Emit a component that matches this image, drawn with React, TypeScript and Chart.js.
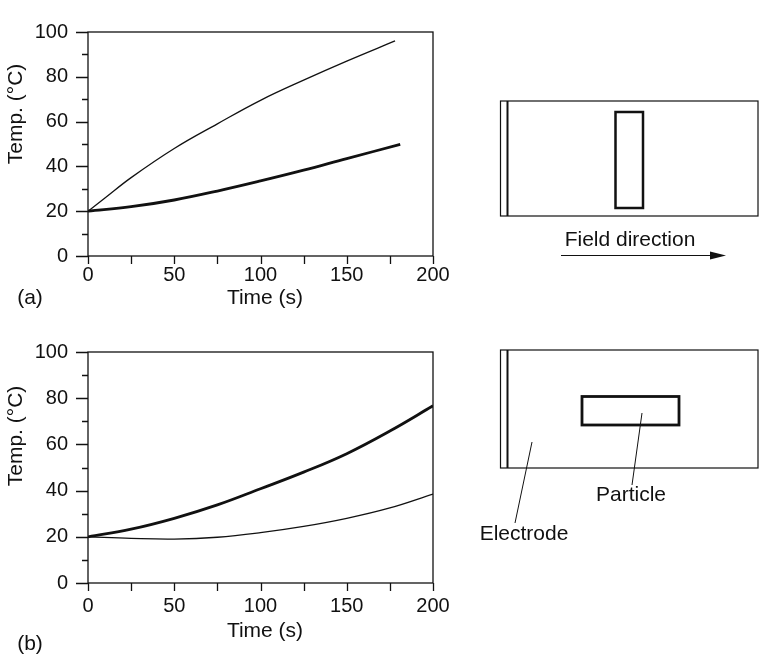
import React, { useEffect, useRef } from "react";
import { Chart, registerables } from "chart.js";

Chart.register(...registerables);

// ---- Data ----
const timeThinA = [0, 10, 25, 50, 75, 100, 125, 150, 178];
const tempThinA = [20, 26, 35, 48, 59, 69.5, 78.5, 87, 96];
const timeThickA = [0, 25, 50, 75, 100, 125, 150, 181];
const tempThickA = [20, 22, 25, 29, 33.5, 38.3, 43.5, 49.8];

const timeB = [0, 25, 50, 75, 100, 125, 150, 175, 200];
const tempThickB = [20, 23.3, 28, 33.8, 40.8, 48, 56, 65.8, 76.7];
const tempThinB = [20, 19.3, 19, 19.8, 21.8, 24.5, 28, 32.5, 38.5];

const xMajorTicks = [0, 50, 100, 150, 200];
const xMinorTicks = [25, 75, 125, 175];
const yMajorTicks = [0, 20, 40, 60, 80, 100];
const yMinorTicks = [10, 30, 50, 70, 90];

const xTitle = "Time (s)";
const yTitle = "Temp. (°C)";
const panelLabels = ["(a)", "(b)"];

const FONT = "'Liberation Sans', Arial, Helvetica, sans-serif";
const INK = "#111";

const pts = (xs: number[], ys: number[]) => xs.map((x, i) => ({ x, y: ys[i] }));

type DiagramFn = (ctx: CanvasRenderingContext2D) => void;

function drawTopDiagram(ctx: CanvasRenderingContext2D) {
  ctx.save();
  ctx.strokeStyle = INK;
  ctx.fillStyle = INK;
  ctx.lineWidth = 1.2;
  ctx.strokeRect(500.5, 101, 257.5, 115);
  ctx.lineWidth = 2;
  ctx.beginPath();
  ctx.moveTo(507.5, 101);
  ctx.lineTo(507.5, 216);
  ctx.stroke();
  ctx.lineWidth = 2.5;
  ctx.strokeRect(615.5, 112, 27.5, 96);
  ctx.font = `21px ${FONT}`;
  ctx.textAlign = "center";
  ctx.textBaseline = "middle";
  ctx.fillText("Field direction", 630, 240);
  ctx.lineWidth = 1.2;
  ctx.beginPath();
  ctx.moveTo(561, 255.5);
  ctx.lineTo(712, 255.5);
  ctx.stroke();
  ctx.beginPath();
  ctx.moveTo(726, 255.5);
  ctx.lineTo(710, 251.5);
  ctx.lineTo(710, 259.5);
  ctx.closePath();
  ctx.fill();
  ctx.restore();
}

function drawBottomDiagram(ctx: CanvasRenderingContext2D) {
  ctx.save();
  ctx.translate(0, -320);
  ctx.strokeStyle = INK;
  ctx.fillStyle = INK;
  ctx.lineWidth = 1.2;
  ctx.strokeRect(500.5, 350, 257.5, 118);
  ctx.lineWidth = 2;
  ctx.beginPath();
  ctx.moveTo(507.5, 350);
  ctx.lineTo(507.5, 468);
  ctx.stroke();
  ctx.lineWidth = 2.8;
  ctx.strokeRect(582, 396.5, 97, 28.5);
  ctx.lineWidth = 1;
  ctx.beginPath();
  ctx.moveTo(642, 413);
  ctx.lineTo(632, 485);
  ctx.moveTo(532, 442);
  ctx.lineTo(515, 523);
  ctx.stroke();
  ctx.font = `21px ${FONT}`;
  ctx.textAlign = "center";
  ctx.textBaseline = "middle";
  ctx.fillText("Particle", 631, 495);
  ctx.fillText("Electrode", 524, 534);
  ctx.restore();
}

function makeDecorPlugin(
  label: string,
  xTitleY: number,
  labelY: number,
  yTitleCenterY: number,
  diagram: DiagramFn
) {
  return {
    id: "decor",
    afterDraw(chart: any) {
      const ctx: CanvasRenderingContext2D = chart.ctx;
      const area = chart.chartArea;
      const xs = chart.scales.x;
      const ys = chart.scales.y;
      ctx.save();
      ctx.strokeStyle = INK;
      ctx.lineWidth = 1.3;
      ctx.strokeRect(area.left, area.top, area.right - area.left, area.bottom - area.top);
      ctx.beginPath();
      yMajorTicks.forEach((v) => {
        const p = Math.round(ys.getPixelForValue(v)) + 0.5;
        ctx.moveTo(area.left - 12, p);
        ctx.lineTo(area.left, p);
      });
      yMinorTicks.forEach((v) => {
        const p = Math.round(ys.getPixelForValue(v)) + 0.5;
        ctx.moveTo(area.left - 6, p);
        ctx.lineTo(area.left, p);
      });
      [...xMajorTicks, ...xMinorTicks].forEach((v) => {
        const p = Math.round(xs.getPixelForValue(v)) + 0.5;
        ctx.moveTo(p, area.bottom);
        ctx.lineTo(p, area.bottom + 8);
      });
      ctx.stroke();
      ctx.fillStyle = INK;
      ctx.font = `21px ${FONT}`;
      ctx.textAlign = "center";
      ctx.textBaseline = "middle";
      ctx.fillText(xTitle, 265, xTitleY);
      ctx.fillText(label, 30, labelY);
      ctx.save();
      ctx.translate(16, yTitleCenterY);
      ctx.rotate(-Math.PI / 2);
      ctx.fillText(yTitle, 0, 0);
      ctx.restore();
      ctx.restore();
      diagram(ctx);
    },
  };
}

function makeConfig(
  datasets: any[],
  padTop: number,
  xHeight: number,
  xLabelPad: number,
  plugin: any
) {
  return {
    type: "line" as const,
    data: { datasets },
    options: {
      animation: false as const,
      responsive: false,
      maintainAspectRatio: false,
      layout: { padding: { left: 0, top: padTop, right: 326, bottom: 0 } },
      plugins: { legend: { display: false }, tooltip: { enabled: false } },
      elements: { point: { radius: 0 }, line: { tension: 0.4 } },
      scales: {
        x: {
          type: "linear" as const,
          min: 0,
          max: 200,
          afterFit: (axis: any) => {
            axis.height = xHeight;
          },
          ticks: {
            stepSize: 50,
            color: INK,
            font: { family: FONT, size: 20 },
            padding: xLabelPad,
            maxRotation: 0,
            autoSkip: false,
          },
          grid: { display: false, drawTicks: false },
          border: { display: false },
        },
        y: {
          type: "linear" as const,
          min: 0,
          max: 100,
          afterFit: (axis: any) => {
            axis.width = 88;
          },
          ticks: {
            stepSize: 20,
            color: INK,
            font: { family: FONT, size: 20 },
            padding: 20,
            autoSkip: false,
          },
          grid: { display: false, drawTicks: false },
          border: { display: false },
        },
      },
    },
    plugins: [plugin],
  };
}

function ChartCanvas({ top, height, config }: { top: number; height: number; config: () => any }) {
  const ref = useRef<HTMLCanvasElement>(null);
  useEffect(() => {
    if (!ref.current) return;
    const chart = new Chart(ref.current, config());
    return () => chart.destroy();
  }, []);
  return (
    <canvas
      ref={ref}
      width={759}
      height={height}
      style={{ position: "absolute", left: 0, top, width: 759, height }}
    />
  );
}

export default function App() {
  const configA = () =>
    makeConfig(
      [
        {
          data: pts(timeThinA, tempThinA),
          borderColor: INK,
          borderWidth: 1.3,
          fill: false,
        },
        {
          data: pts(timeThickA, tempThickA),
          borderColor: INK,
          borderWidth: 2.8,
          fill: false,
        },
      ],
      15,
      64,
      7,
      makeDecorPlugin(panelLabels[0], 298, 298, 114, drawTopDiagram)
    );
  const configB = () =>
    makeConfig(
      [
        {
          data: pts(timeB, tempThickB),
          borderColor: INK,
          borderWidth: 2.8,
          fill: false,
        },
        {
          data: pts(timeB, tempThinB),
          borderColor: INK,
          borderWidth: 1.3,
          fill: false,
        },
      ],
      16,
      72,
      11,
      makeDecorPlugin(panelLabels[1], 631 - 320, 644 - 320, 436 - 320, drawBottomDiagram)
    );
  return (
    <div style={{ position: "absolute", left: 0, top: 0, width: 759, height: 655, background: "#fff" }}>
      <ChartCanvas top={0} height={320} config={configA} />
      <ChartCanvas top={320} height={335} config={configB} />
    </div>
  );
}
